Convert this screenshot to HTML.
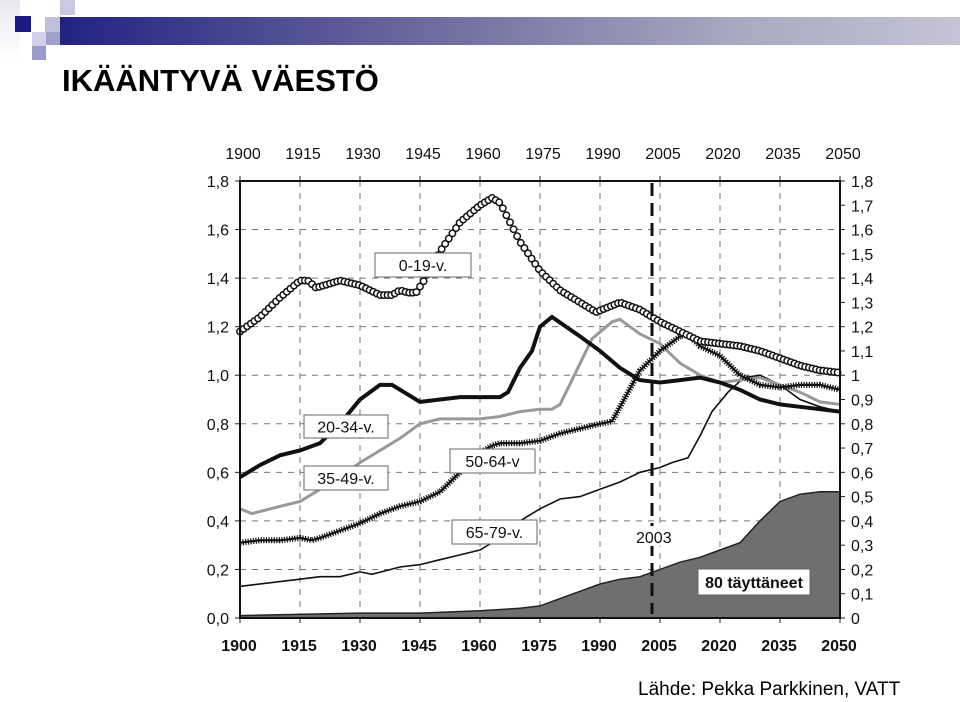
<!DOCTYPE html>
<html><head><meta charset="utf-8"><style>
body{margin:0;width:960px;height:702px;background:#fff;overflow:hidden;position:relative;font-family:"Liberation Sans",Arial,sans-serif}
.sq{position:absolute}
</style></head><body>
<div>
<div class="sq" style="left:0;top:0;width:20px;height:60px;background:linear-gradient(#e8e8f2,#fff)"></div>
<div class="sq" style="left:60px;top:0;width:15px;height:15px;background:#c8c8e0"></div>
<div class="sq" style="left:45px;top:17px;width:15px;height:15px;background:#c0c0dc"></div>
<div class="sq" style="left:32px;top:32px;width:14px;height:14px;background:#d0d0e6"></div>
<div class="sq" style="left:46px;top:32px;width:14px;height:13px;background:#a0a0cc"></div>
<div class="sq" style="left:32px;top:46px;width:14px;height:14px;background:#9a9ac8"></div>
<div class="sq" style="left:15px;top:16px;width:16px;height:16px;background:#1a1a80"></div>
<div class="sq" style="left:60px;top:17px;width:900px;height:28px;background:linear-gradient(90deg,#222283,#6a6a9e 40%,#a8a8c0 75%,#c4c4d4)"></div>
</div>
<div style="position:absolute;left:62px;top:63px;font-size:31px;font-weight:bold;color:#000">IKÄÄNTYVÄ VÄESTÖ</div>
<div style="position:absolute;left:638px;top:679px;font-size:19px;color:#000">Lähde: Pekka Parkkinen, VATT</div>
<svg id="chart" width="960" height="702" style="position:absolute;left:0;top:0" font-family="'Liberation Sans',Arial,sans-serif"></svg>
<script>
const xTicks=[1900,1915,1930,1945,1960,1975,1990,2005,2020,2035,2050];
const yLeftTicks=[0,0.2,0.4,0.6,0.8,1.0,1.2,1.4,1.6,1.8];
const yRightTicks=[0,0.1,0.2,0.3,0.4,0.5,0.6,0.7,0.8,0.9,1,1.1,1.2,1.3,1.4,1.5,1.6,1.7,1.8];
const yrs019=[1900,1905,1910,1915,1917,1919,1925,1930,1935,1938,1940,1942,1944,1946,1950,1955,1960,1963,1965,1970,1975,1980,1985,1989,1995,2000,2005,2010,2015,2020,2025,2030,2035,2040,2045,2050];
const v019=[1.18,1.24,1.32,1.39,1.39,1.36,1.39,1.37,1.33,1.33,1.35,1.34,1.34,1.39,1.51,1.63,1.70,1.73,1.71,1.55,1.43,1.35,1.30,1.26,1.30,1.27,1.22,1.18,1.14,1.13,1.12,1.10,1.07,1.04,1.02,1.01];
const yrs2034=[1900,1905,1910,1915,1920,1925,1930,1935,1938,1942,1945,1950,1955,1960,1965,1967,1970,1973,1975,1978,1985,1990,1995,2000,2005,2010,2015,2020,2025,2030,2035,2040,2045,2050];
const v2034=[0.58,0.63,0.67,0.69,0.72,0.80,0.90,0.96,0.96,0.92,0.89,0.90,0.91,0.91,0.91,0.93,1.03,1.10,1.20,1.24,1.16,1.10,1.03,0.98,0.97,0.98,0.99,0.97,0.94,0.90,0.88,0.87,0.86,0.85];
const yrs3549=[1900,1903,1910,1915,1920,1925,1930,1935,1940,1945,1950,1955,1960,1965,1970,1975,1978,1980,1983,1988,1993,1995,2000,2005,2010,2015,2020,2025,2030,2035,2040,2045,2050];
const v3549=[0.45,0.43,0.46,0.48,0.53,0.58,0.64,0.69,0.74,0.80,0.82,0.82,0.82,0.83,0.85,0.86,0.86,0.88,0.98,1.15,1.22,1.23,1.17,1.13,1.05,1.00,0.97,0.98,0.99,0.96,0.93,0.89,0.88];
const yrs5064=[1900,1905,1910,1915,1918,1920,1925,1930,1935,1940,1945,1950,1955,1960,1963,1965,1970,1975,1980,1985,1990,1993,1996,2000,2005,2010,2012,2015,2020,2025,2030,2035,2040,2045,2050];
const v5064=[0.31,0.32,0.32,0.33,0.32,0.33,0.36,0.39,0.43,0.46,0.48,0.52,0.60,0.68,0.71,0.72,0.72,0.73,0.76,0.78,0.80,0.81,0.90,1.02,1.10,1.16,1.17,1.12,1.08,1.00,0.96,0.95,0.96,0.96,0.94];
const yrs6579=[1900,1910,1915,1920,1925,1930,1933,1940,1945,1950,1955,1960,1965,1970,1975,1980,1985,1990,1995,2000,2005,2008,2012,2015,2018,2022,2026,2030,2035,2040,2045,2050];
const v6579=[0.13,0.15,0.16,0.17,0.17,0.19,0.18,0.21,0.22,0.24,0.26,0.28,0.33,0.40,0.45,0.49,0.50,0.53,0.56,0.60,0.62,0.64,0.66,0.75,0.85,0.93,0.99,1.00,0.96,0.90,0.87,0.85];
const yrs80=[1900,1930,1945,1960,1970,1975,1980,1985,1990,1995,2000,2005,2010,2015,2020,2025,2030,2035,2040,2045,2050];
const v80=[0.01,0.02,0.02,0.03,0.04,0.05,0.08,0.11,0.14,0.16,0.17,0.20,0.23,0.25,0.28,0.31,0.40,0.48,0.51,0.52,0.52];
const markerYear=2003;

const X0=240,X1=840,Y0=618,Y1=181;
const xS=y=>X0+(y-1900)*(X1-X0)/150;
const yS=v=>Y0-v*(Y0-Y1)/1.8;
const svg=document.getElementById('chart');
const NS='http://www.w3.org/2000/svg';
function mk(tag,at,parent){const e=document.createElementNS(NS,tag);for(const k in at)e.setAttribute(k,at[k]);(parent||svg).appendChild(e);return e;}
function pts(ys,vs){return ys.map((y,i)=>xS(y).toFixed(1)+','+yS(vs[i]).toFixed(1)).join(' ');}

xTicks.forEach((t,i)=>{if(i>0&&i<xTicks.length-1){const l=mk('line',{x1:xS(t),x2:xS(t),y1:Y1,y2:Y0,stroke:'#777','stroke-width':1,'stroke-dasharray':'6,6'});

}
const a=mk('text',{x:xS(t)+3,y:159,'text-anchor':'middle','font-size':16,fill:'#111'});a.textContent=t;


const b=mk('text',{x:xS(t)-1,y:651,'text-anchor':'middle','font-size':16,'font-weight':'bold',fill:'#111'});b.textContent=t;


mk('line',{x1:xS(t),x2:xS(t),y1:Y0,y2:Y0+5,stroke:'#222'});mk('line',{x1:xS(t),x2:xS(t),y1:Y1-5,y2:Y1,stroke:'#222'});});
yLeftTicks.forEach((t,i)=>{if(i>0&&i<yLeftTicks.length-1){const l=mk('line',{x1:X0,x2:X1,y1:yS(t),y2:yS(t),stroke:'#777','stroke-width':1,'stroke-dasharray':'6,6'});

}
const a=mk('text',{x:229,y:yS(t)+6,'text-anchor':'end','font-size':16,fill:'#111'});a.textContent=t.toFixed(1).replace('.',',');


mk('line',{x1:X0-5,x2:X0,y1:yS(t),y2:yS(t),stroke:'#222'});});
yRightTicks.forEach(t=>{const a=mk('text',{x:851,y:yS(t)+6,'font-size':16,fill:'#111'});a.textContent=String(Math.round(t*10)/10).replace('.',',');


mk('line',{x1:X1,x2:X1+5,y1:yS(t),y2:yS(t),stroke:'#222'});});

const area=mk('polygon',{points:xS(1900)+','+Y0+' '+pts(yrs80,v80)+' '+xS(2050)+','+Y0,fill:'#6f6f6f',stroke:'#222','stroke-width':1.5});



const l6579=mk('polyline',{points:pts(yrs6579,v6579),fill:'none',stroke:'#111','stroke-width':1.6});


const l3549=mk('polyline',{points:pts(yrs3549,v3549),fill:'none',stroke:'#999','stroke-width':3});


const l5064=mk('polyline',{points:pts(yrs5064,v5064),fill:'none',stroke:'#111','stroke-width':6,'stroke-dasharray':'1.2,1.4'});


const l5064b=mk('polyline',{points:pts(yrs5064,v5064),fill:'none',stroke:'#111','stroke-width':2.2});


const l2034=mk('polyline',{points:pts(yrs2034,v2034),fill:'none',stroke:'#111','stroke-width':4});


const l019=mk('polyline',{points:pts(yrs019,v019),fill:'none',stroke:'#111','stroke-width':1.5});


function interp(ys,vs,y){for(let i=0;i<ys.length-1;i++){if(y>=ys[i]&&y<=ys[i+1]){const f=(y-ys[i])/(ys[i+1]-ys[i]);return vs[i]+f*(vs[i+1]-vs[i]);}}return vs[vs.length-1];}
for(let y=1900;y<=2050;y+=0.9){const c=mk('circle',{cx:xS(y),cy:yS(interp(yrs019,v019,y)),r:3.2,fill:'#fff',stroke:'#111','stroke-width':1.5});

}

const fr=mk('rect',{x:X0,y:Y1,width:X1-X0,height:Y0-Y1,fill:'none',stroke:'#111','stroke-width':2});



const ml=mk('line',{x1:xS(markerYear),x2:xS(markerYear),y1:Y1+2,y2:Y0-4,stroke:'#111','stroke-width':3,'stroke-dasharray':'13,7'});


mk('rect',{x:634,y:526,width:40,height:20,fill:'#fff'});
const mt=mk('text',{x:636,y:543,'font-size':16,fill:'#111'});mt.textContent=String(markerYear);



function lab(x,y,w,h,txt,name,bold){mk('rect',{x:x,y:y,width:w,height:h,fill:'#fff',stroke:'#666','stroke-width':1});
const t=mk('text',{x:x+w/2,y:y+h/2+6,'text-anchor':'middle','font-size':16,fill:'#111'});if(bold)t.setAttribute('font-weight','bold');t.textContent=txt;

}
lab(375,253,96,24,'0-19-v.','label-0-19');
lab(304,415,84,23,'20-34-v.','label-20-34');
lab(304,466,84,24,'35-49-v.','label-35-49');
lab(450,449,85,24,'50-64-v','label-50-64');
lab(452,520,85,24,'65-79-v.','label-65-79');
lab(698,569,112,26,'80 täyttäneet','label-80-plus',true);
</script>
</body></html>
